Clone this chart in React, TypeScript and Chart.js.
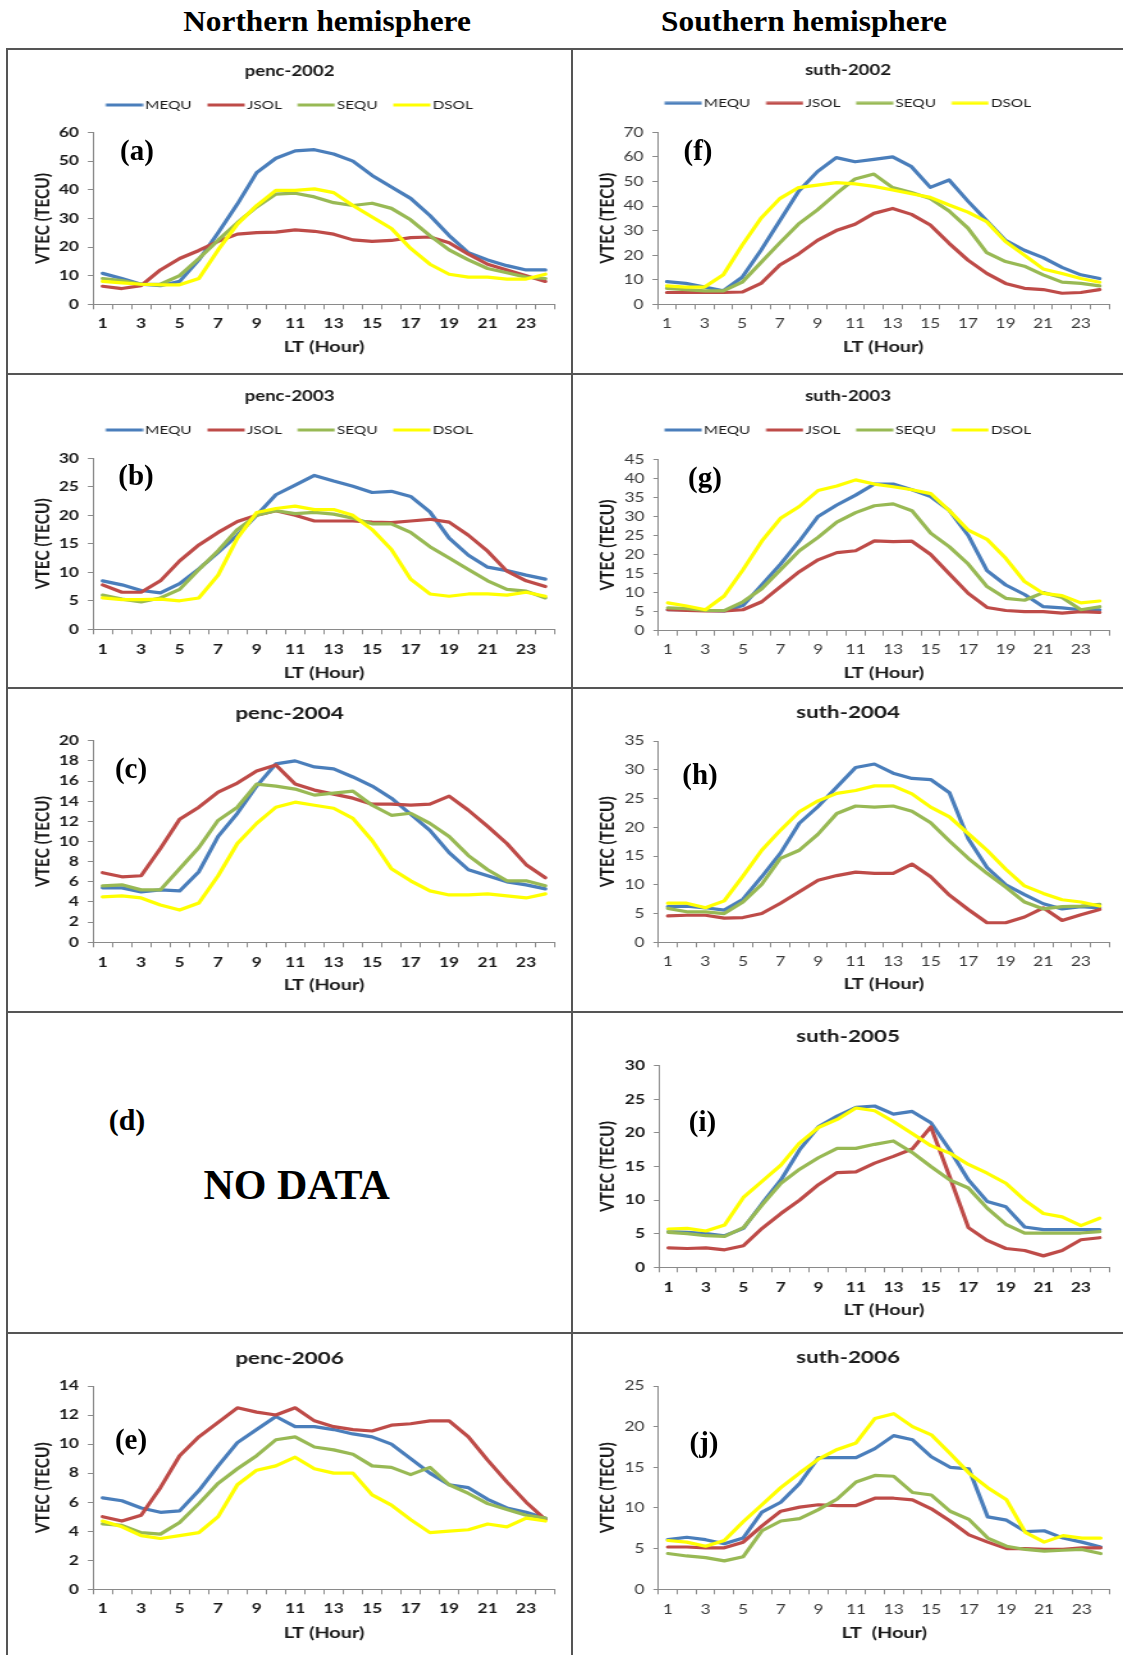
import React, { useEffect, useRef } from 'react';
import { Chart, registerables } from 'chart.js';

Chart.register(...registerables);

// ---------- data ----------
const HOURS = ['1', '2', '3', '4', '5', '6', '7', '8', '9', '10', '11', '12', '13', '14', '15', '16', '17', '18', '19', '20', '21', '22', '23', '24'];
const SERIES = ['MEQU', 'JSOL', 'SEQU', 'DSOL'];
const COLORS = ['#4A7EBB', '#BE4B48', '#98B954', '#FFFF00'];

// (a) penc-2002
const A_MEQU = [10.8, 9, 7, 6.5, 8, 15.5, 25, 35, 46, 51, 53.6, 54, 52.5, 50, 45, 41, 37, 31, 24, 18, 15.5, 13.5, 12, 12];
const A_JSOL = [6.3, 5.5, 6.5, 12, 16, 18.8, 22, 24.5, 25, 25.2, 26, 25.5, 24.5, 22.5, 22, 22.3, 23.3, 23.5, 21.5, 17.5, 14, 12, 10, 8];
const A_SEQU = [9, 8.3, 7, 7, 10, 16, 22.4, 28.5, 34, 38.5, 38.8, 37.5, 35.5, 34.5, 35.3, 33.5, 29.5, 24, 19, 15.5, 12.5, 11, 9.5, 9];
const A_DSOL = [8, 7.5, 7, 6.8, 6.8, 9, 19, 28, 34.5, 39.8, 39.8, 40.3, 39, 34.5, 30.5, 26.5, 19.5, 14, 10.5, 9.5, 9.5, 8.8, 8.8, 10.5];

// (f) suth-2002
const F_MEQU = [9.2, 8.5, 7, 5.5, 11, 22, 34, 46, 54, 59.7, 58, 59, 60, 56, 47.6, 50.6, 42, 34, 26, 22, 19, 15, 12, 10.5];
const F_JSOL = [4.8, 4.8, 4.8, 4.8, 5, 8.5, 16, 20.5, 26, 30, 32.6, 37, 39, 36.6, 32.3, 24.8, 18, 12.6, 8.5, 6.5, 6, 4.5, 4.8, 6];
const F_SEQU = [6.5, 6, 5.5, 5.5, 9, 17, 25, 32.7, 38.4, 45, 51, 53, 47.5, 45.5, 43, 38, 31, 21, 17.4, 15.5, 12, 9, 8.5, 7.5];
const F_DSOL = [7.5, 7, 7, 12, 24, 35, 43, 47.5, 48.5, 49.5, 49, 48, 46.5, 45, 43.5, 40.4, 37.5, 33.6, 25.5, 20, 14.4, 12.5, 10.5, 9];

// (b) penc-2003
const B_MEQU = [8.5, 7.8, 6.8, 6.4, 8, 10.6, 13.5, 16.5, 20, 23.6, 25.3, 27, 26, 25.1, 24, 24.2, 23.3, 20.6, 16, 13, 10.9, 10.3, 9.5, 8.8];
const B_JSOL = [7.8, 6.5, 6.5, 8.5, 12, 14.8, 17, 18.9, 20, 20.8, 20, 19, 19, 19, 18.8, 18.7, 19, 19.3, 18.8, 16.5, 13.7, 10.2, 8.5, 7.5];
const B_SEQU = [6, 5.3, 4.8, 5.5, 7, 10.5, 13.8, 17.5, 20, 20.8, 20.3, 20.5, 20.2, 19.5, 18.5, 18.5, 17, 14.5, 12.5, 10.5, 8.5, 7, 6.7, 5.5];
const B_DSOL = [5.5, 5.2, 5.2, 5.3, 5, 5.5, 9.5, 16, 20.5, 21.2, 21.6, 21, 21, 20, 17.5, 14, 8.8, 6.2, 5.8, 6.2, 6.2, 6, 6.5, 5.8];

// (g) suth-2003
const G_MEQU = [5.5, 5.5, 5.3, 5.2, 6.6, 12, 17.5, 23.5, 30, 33, 35.6, 38.5, 38.5, 37, 35.2, 31.5, 25, 15.8, 12, 9.5, 6.3, 6, 5.5, 5.5];
const G_JSOL = [5.5, 5.3, 5.2, 5.2, 5.5, 7.6, 11.6, 15.5, 18.6, 20.5, 21, 23.6, 23.4, 23.5, 20, 14.9, 9.8, 6.1, 5.3, 5, 5, 4.6, 5, 4.8];
const G_SEQU = [6, 5.8, 5.3, 5.3, 7.6, 11, 16, 21, 24.5, 28.5, 31, 32.8, 33.3, 31.5, 25.6, 22, 17.5, 11.6, 8.5, 8, 10, 8.7, 5.5, 6.3];
const G_DSOL = [7.3, 6.5, 5.5, 9.1, 16, 23.5, 29.5, 32.6, 36.8, 38, 39.6, 38.5, 37.8, 37, 36, 31.5, 26.4, 24, 19, 12.9, 9.8, 9.2, 7.3, 7.8];

// (c) penc-2004
const C_MEQU = [5.4, 5.4, 5, 5.2, 5.1, 7, 10.5, 12.8, 15.5, 17.7, 18, 17.4, 17.2, 16.4, 15.5, 14.3, 12.7, 11.1, 8.9, 7.2, 6.6, 6, 5.7, 5.3];
const C_JSOL = [6.9, 6.5, 6.6, 9.3, 12.2, 13.4, 14.9, 15.8, 17, 17.6, 15.7, 15.1, 14.7, 14.3, 13.7, 13.7, 13.6, 13.7, 14.5, 13.1, 11.5, 9.8, 7.7, 6.4];
const C_SEQU = [5.6, 5.7, 5.2, 5.2, 7.3, 9.4, 12.1, 13.4, 15.7, 15.5, 15.2, 14.6, 14.8, 15, 13.6, 12.6, 12.8, 11.8, 10.5, 8.6, 7.2, 6.1, 6.1, 5.6];
const C_DSOL = [4.5, 4.6, 4.4, 3.7, 3.2, 3.9, 6.6, 9.8, 11.8, 13.4, 13.9, 13.6, 13.3, 12.3, 10.1, 7.3, 6.1, 5.1, 4.7, 4.7, 4.8, 4.6, 4.4, 4.8];

// (h) suth-2004
const H_MEQU = [6.2, 6.3, 6, 5.6, 7.5, 11.4, 15.5, 20.7, 23.6, 27, 30.4, 31, 29.4, 28.5, 28.3, 26, 18, 13, 10, 8.3, 6.7, 5.8, 6.2, 6];
const H_JSOL = [4.6, 4.7, 4.7, 4.2, 4.3, 5, 6.8, 8.8, 10.8, 11.6, 12.2, 12, 12, 13.6, 11.4, 8.2, 5.7, 3.4, 3.4, 4.4, 6, 3.8, 4.8, 5.7];
const H_SEQU = [5.9, 5.3, 5.3, 5, 7, 10.1, 14.6, 16, 18.8, 22.4, 23.7, 23.5, 23.7, 22.8, 20.8, 17.6, 14.6, 12, 9.6, 7, 5.8, 6.2, 6.3, 6.6];
const H_DSOL = [6.8, 6.8, 6, 7.2, 11.5, 16, 19.5, 22.7, 24.6, 25.9, 26.4, 27.2, 27.2, 25.8, 23.5, 21.8, 18.9, 16, 12.7, 9.8, 8.5, 7.4, 7, 6.3];

// (i) suth-2005
const I_MEQU = [5.3, 5.2, 5, 4.7, 5.8, 9.5, 13, 17.5, 20.9, 22.5, 23.8, 24, 22.8, 23.2, 21.5, 17.5, 13, 9.8, 9, 6, 5.6, 5.6, 5.6, 5.6];
const I_JSOL = [2.9, 2.8, 2.9, 2.6, 3.2, 5.8, 8, 10, 12.3, 14.1, 14.2, 15.5, 16.5, 17.6, 20.9, 13.5, 5.9, 4, 2.8, 2.5, 1.7, 2.5, 4.1, 4.4];
const I_SEQU = [5.2, 5, 4.7, 4.6, 5.9, 9.3, 12.5, 14.6, 16.3, 17.7, 17.7, 18.3, 18.8, 17.1, 15, 13, 11.8, 8.8, 6.4, 5.1, 5.1, 5.1, 5.1, 5.3];
const I_DSOL = [5.7, 5.8, 5.4, 6.3, 10.4, 12.8, 15.2, 18.5, 20.8, 22, 23.7, 23.3, 21.7, 19.9, 18.1, 17, 15.3, 14, 12.5, 10, 8, 7.5, 6.2, 7.3];

// (e) penc-2006
const E_MEQU = [6.3, 6.1, 5.6, 5.3, 5.4, 6.8, 8.5, 10.1, 11, 11.9, 11.2, 11.2, 11, 10.7, 10.5, 10, 9, 8, 7.2, 7, 6.2, 5.6, 5.3, 4.9];
const E_JSOL = [5, 4.7, 5.1, 7, 9.2, 10.5, 11.5, 12.5, 12.2, 12, 12.5, 11.6, 11.2, 11, 10.9, 11.3, 11.4, 11.6, 11.6, 10.5, 8.9, 7.4, 6, 4.8];
const E_SEQU = [4.5, 4.4, 3.9, 3.8, 4.6, 5.9, 7.3, 8.3, 9.2, 10.3, 10.5, 9.8, 9.6, 9.3, 8.5, 8.4, 7.9, 8.4, 7.2, 6.6, 5.9, 5.5, 5.1, 4.9];
const E_DSOL = [4.7, 4.3, 3.7, 3.5, 3.7, 3.9, 5, 7.2, 8.2, 8.5, 9.1, 8.3, 8, 8, 6.5, 5.8, 4.8, 3.9, 4, 4.1, 4.5, 4.3, 4.9, 4.7];

// (j) suth-2006
const J_MEQU = [6.1, 6.4, 6.1, 5.6, 6.3, 9.5, 10.7, 13, 16.2, 16.2, 16.2, 17.3, 18.9, 18.4, 16.3, 15, 14.8, 8.9, 8.5, 7.1, 7.2, 6.3, 5.8, 5.2];
const J_JSOL = [5.2, 5.2, 5.1, 5.1, 5.8, 7.8, 9.6, 10.1, 10.4, 10.3, 10.3, 11.2, 11.2, 11, 9.9, 8.4, 6.7, 5.8, 5, 5, 4.9, 4.9, 5.1, 5.1];
const J_SEQU = [4.4, 4.1, 3.9, 3.5, 4, 7.2, 8.4, 8.7, 9.8, 11.1, 13.2, 14, 13.9, 11.9, 11.6, 9.6, 8.6, 6.3, 5.3, 4.9, 4.7, 4.8, 4.9, 4.4];
const J_DSOL = [6, 5.8, 5.3, 6, 8.3, 10.4, 12.5, 14.3, 16, 17.2, 18, 21, 21.6, 20, 19, 16.7, 14.3, 12.5, 11, 7, 5.8, 6.6, 6.3, 6.3];

// ---------- layout / style ----------
const SX = 1.28; // horizontal stretch of the pasted chart images
const FONT = 'Lato, "Open Sans", Arial, sans-serif';
const SERIF = '"Liberation Serif", "Times New Roman", serif';
const FS_TICK = 13.5;
const FS_AXIS = 15.5;
const FS_LEG = 12;
const LEG_PAD = 12.5;
const LEG_LINE = 29;   // visible legend line length (canvas units)
const LEG_GAP = 1.5;   // gap between legend line and text
const LEG_BOX = LEG_LINE + LEG_GAP - FS_LEG / 2;
const AXIS_COLOR = '#8a8a8a';
const LINE_W = 3.2;

type Spec = {
  key: string; title: string; data: number[][]; yMax: number; yStep: number;
  box: number[]; plot: number[]; titleY: number; legendY: number | null;
  xLab: number; xTit: number; yTit: number; bold: boolean; letter: number[];
};

const PANELS: Spec[] = [
  { key: 'a', title: 'penc-2002', data: [A_MEQU, A_JSOL, A_SEQU, A_DSOL], yMax: 60, yStep: 10, box: [7, 49, 565, 324], plot: [86, 548, 83.5, 255.3], titleY: 22, legendY: 56, xLab: 19, xTit: 42.4, yTit: 36.3, bold: true, letter: [137, 150] },
  { key: 'f', title: 'suth-2002', data: [F_MEQU, F_JSOL, F_SEQU, F_DSOL], yMax: 70, yStep: 10, box: [573, 49, 550, 324], plot: [84.5, 536, 83.3, 255.3], titleY: 21, legendY: 54.3, xLab: 19, xTit: 42.4, yTit: 34.5, bold: false, letter: [698, 150] },
  { key: 'b', title: 'penc-2003', data: [B_MEQU, B_JSOL, B_SEQU, B_DSOL], yMax: 30, yStep: 5, box: [7, 374, 565, 313], plot: [86, 548, 84.3, 255.3], titleY: 22, legendY: 56, xLab: 20, xTit: 43.4, yTit: 36.3, bold: true, letter: [136, 475] },
  { key: 'g', title: 'suth-2003', data: [G_MEQU, G_JSOL, G_SEQU, G_DSOL], yMax: 45, yStep: 5, box: [573, 374, 550, 313], plot: [85.5, 536, 85.3, 256.7], titleY: 22, legendY: 56, xLab: 18.6, xTit: 42, yTit: 34.5, bold: false, letter: [705, 477] },
  { key: 'c', title: 'penc-2004', data: [C_MEQU, C_JSOL, C_SEQU, C_DSOL], yMax: 20, yStep: 2, box: [7, 688, 565, 323], plot: [86, 548, 52.7, 254.3], titleY: 25.3, legendY: null, xLab: 20.4, xTit: 42.7, yTit: 36.3, bold: true, letter: [131, 768] },
  { key: 'h', title: 'suth-2004', data: [H_MEQU, H_JSOL, H_SEQU, H_DSOL], yMax: 35, yStep: 5, box: [573, 688, 550, 323], plot: [85.5, 536, 53, 254.3], titleY: 24.3, legendY: null, xLab: 19.4, xTit: 41.7, yTit: 34.5, bold: false, letter: [700, 774] },
  { key: 'i', title: 'suth-2005', data: [I_MEQU, I_JSOL, I_SEQU, I_DSOL], yMax: 30, yStep: 5, box: [573, 1012, 550, 320], plot: [86, 536, 53.7, 255.3], titleY: 24.7, legendY: null, xLab: 20, xTit: 42.7, yTit: 34.5, bold: true, letter: [702.5, 1121] },
  { key: 'e', title: 'penc-2006', data: [E_MEQU, E_JSOL, E_SEQU, E_DSOL], yMax: 14, yStep: 2, box: [7, 1333, 565, 322], plot: [86, 548, 53, 256.3], titleY: 25.3, legendY: null, xLab: 19, xTit: 43.4, yTit: 36.3, bold: true, letter: [131, 1439] },
  { key: 'j', title: 'suth-2006', data: [J_MEQU, J_JSOL, J_SEQU, J_DSOL], yMax: 25, yStep: 5, box: [573, 1333, 550, 322], plot: [85.5, 537, 53, 256.3], titleY: 24.7, legendY: null, xLab: 20, xTit: 43.4, yTit: 34.5, bold: false, letter: [704, 1442] },
];

// legend marker: a line that starts at the item's left edge and ends just before the text
function legendMarker(color: string): HTMLCanvasElement {
  const half = Math.max(LEG_BOX / 2, LEG_LINE - LEG_BOX / 2);
  const c = document.createElement('canvas');
  c.width = Math.ceil(half * 2);
  c.height = 4;
  const g = c.getContext('2d');
  if (g) {
    g.fillStyle = color;
    g.fillRect(half - LEG_BOX / 2, 0.5, LEG_LINE, 3);
  }
  return c;
}

function ChartPanel({ spec }: { spec: Spec }) {
  const ref = useRef<HTMLCanvasElement>(null);
  const [bx, by, bw, bh] = spec.box;
  const wi = Math.round(bw / SX);
  const sx = bw / wi;

  useEffect(() => {
    const canvas = ref.current;
    if (!canvas) return;
    const [pl, pr, pt, pb] = spec.plot;
    const R = (bw - pr) / sx;
    const yW = pl / sx - R;
    const hasLegend = spec.legendY != null;
    const fsT = hasLegend ? 14.5 : 17.5;
    const lhT = fsT * 1.2;
    const titlePadTop = spec.titleY - lhT / 2;
    let titlePadBottom = 0;
    let extra = 0;
    if (hasLegend) {
      const titleBottom = (spec.legendY as number) - LEG_PAD - FS_LEG / 2;
      titlePadBottom = titleBottom - (spec.titleY + lhT / 2);
      extra = pt - titleBottom - (FS_LEG + LEG_PAD + 10);
    } else {
      titlePadBottom = pt - (spec.titleY + lhT / 2);
    }
    const lhTick = FS_TICK * 1.2;
    const lhAx = FS_AXIS * 1.2;
    const xH = spec.xTit + lhAx / 2;
    const padBottom = Math.max(0, bh - pb - xH);
    const tickColor = spec.bold ? '#1a1a1a' : '#3a3a3a';
    const tickFont = { family: FONT, size: FS_TICK, weight: (spec.bold ? 'bold' : 'normal') as any };
    const axisFont = { family: FONT, size: FS_AXIS, weight: 'bold' as any };
    const markers = COLORS.map(legendMarker);

    const spacer = {
      id: 'legendSpacer',
      beforeInit(chart: any) {
        const lg = chart.legend;
        if (!lg) return;
        const orig = lg.fit;
        lg.fit = function () {
          orig.call(this);
          if (this.options.display) this.height += extra;
        };
      },
    };

    const defaultLabels = (Chart as any).defaults.plugins.legend.labels.generateLabels;

    const chart = new Chart(canvas, {
      type: 'line',
      data: {
        labels: HOURS,
        datasets: spec.data.map((vals, i) => ({
          label: SERIES[i],
          data: vals,
          borderColor: COLORS[i],
          backgroundColor: COLORS[i],
          borderWidth: LINE_W,
          pointRadius: 0,
          pointHoverRadius: 0,
          pointBorderWidth: LINE_W,
          tension: 0,
          fill: false,
          order: 4 - i,
          borderJoinStyle: 'round' as any,
          borderCapStyle: 'round' as any,
        })),
      },
      options: {
        animation: false,
        responsive: false,
        devicePixelRatio: 1,
        events: [],
        layout: { padding: { left: R, right: R, top: 0, bottom: padBottom } },
        plugins: {
          title: {
            display: true,
            text: spec.title,
            color: '#1a1a1a',
            font: { family: FONT, size: fsT, weight: 'bold' as any },
            padding: { top: titlePadTop, bottom: titlePadBottom },
          },
          legend: {
            display: hasLegend,
            position: 'top',
            labels: {
              usePointStyle: true,
              pointStyleWidth: LEG_BOX,
              boxHeight: FS_LEG,
              padding: LEG_PAD,
              color: '#1a1a1a',
              font: { family: FONT, size: FS_LEG },
              sort: (a: any, b: any) => a.datasetIndex - b.datasetIndex,
              generateLabels: (ch: any) => {
                const items = defaultLabels(ch);
                items.forEach((it: any) => { it.pointStyle = markers[it.datasetIndex]; });
                return items;
              },
            },
          },
          tooltip: { enabled: false },
        },
        scales: {
          x: {
            type: 'category',
            offset: true,
            grid: { offset: true, drawOnChartArea: false, drawTicks: true, tickLength: 5, color: AXIS_COLOR, lineWidth: 1 },
            border: { display: true, color: AXIS_COLOR, width: 1 },
            ticks: {
              autoSkip: false,
              maxRotation: 0,
              minRotation: 0,
              padding: spec.xLab - 5 - lhTick / 2,
              color: tickColor,
              font: tickFont,
              callback: (_v: any, i: number) => (i % 2 === 0 ? HOURS[i] : ''),
            },
            title: { display: true, text: spec.key === 'j' ? 'LT  (Hour)' : 'LT (Hour)', color: '#1a1a1a', font: axisFont, padding: 0 },
            afterFit: (s: any) => { s.height = xH; },
          },
          y: {
            min: 0,
            max: spec.yMax,
            grid: { drawOnChartArea: false, drawTicks: true, tickLength: 4, color: AXIS_COLOR, lineWidth: 1 },
            border: { display: true, color: AXIS_COLOR, width: 1 },
            ticks: { stepSize: spec.yStep, autoSkip: false, padding: 7, color: tickColor, font: tickFont },
            title: {
              display: true,
              text: 'VTEC (TECU)',
              color: '#1a1a1a',
              font: axisFont,
              padding: { top: spec.yTit / sx - R - lhAx / 2, bottom: 0 },
            },
            afterFit: (s: any) => { s.width = yW; },
          },
        },
      },
      plugins: [spacer],
    } as any);
    return () => chart.destroy();
  }, []);

  return (
    <canvas
      ref={ref}
      width={wi}
      height={bh}
      style={{ position: 'absolute', left: bx, top: by, width: bw, height: bh }}
    />
  );
}

function Label({ x, y, size, text, sx = 1 }: { x: number; y: number; size: number; text: string; sx?: number }) {
  return (
    <div
      style={{
        position: 'absolute',
        left: x,
        top: y,
        transform: `translate(-50%, -50%) scaleX(${sx})`,
        fontFamily: SERIF,
        fontWeight: 'bold',
        fontSize: size,
        lineHeight: 1,
        whiteSpace: 'nowrap',
        color: '#000',
        zIndex: 3,
      }}
    >
      {text}
    </div>
  );
}

const LINE_COLOR = '#555';

export default function App() {
  const hLines = [48, 373, 687, 1011, 1332];
  return (
    <div style={{ position: 'absolute', left: 0, top: 0, width: 1123, height: 1655, background: '#fff', overflow: 'hidden' }}>
      <Label x={326.5} y={20.5} size={30} sx={1.045} text="Northern hemisphere" />
      <Label x={804} y={20.5} size={30} sx={1.045} text="Southern hemisphere" />
      {PANELS.map((p) => <ChartPanel key={p.key} spec={p} />)}
      {PANELS.map((p) => <Label key={'l' + p.key} x={p.letter[0]} y={p.letter[1]} size={29} text={`(${p.key})`} />)}
      <Label x={127} y={1120} size={30} text="(d)" />
      <Label x={296.6} y={1185} size={42} text="NO DATA" />
      {hLines.map((y) => (
        <div key={'h' + y} style={{ position: 'absolute', left: 6, top: y, width: 1117, height: 2, background: LINE_COLOR, zIndex: 2 }} />
      ))}
      <div style={{ position: 'absolute', left: 6, top: 48, width: 2, height: 1607, background: LINE_COLOR, zIndex: 2 }} />
      <div style={{ position: 'absolute', left: 571, top: 48, width: 2, height: 1607, background: LINE_COLOR, zIndex: 2 }} />
    </div>
  );
}
